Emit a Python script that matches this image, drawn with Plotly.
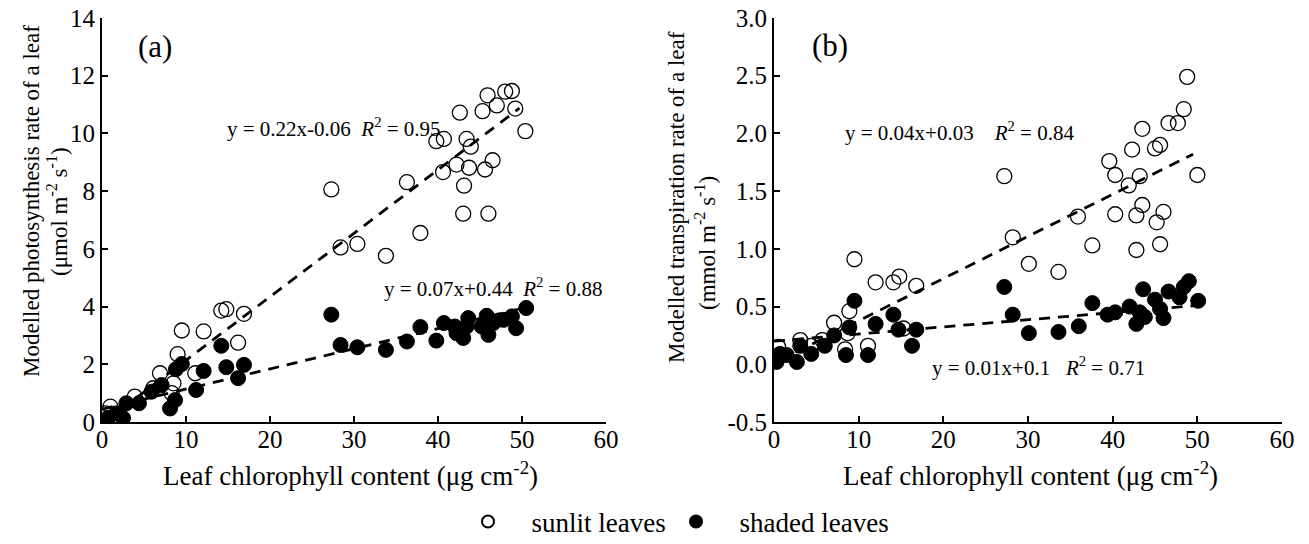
import plotly.graph_objects as go

W, H = 1309, 544
FONT = "Liberation Serif"

# ---------------- Panel (a): photosynthesis ----------------
a_sun_x = [0.4, 1.0, 3.9, 6.1, 6.9, 8.3, 8.5, 9.0, 9.5, 11.1, 12.1, 14.2, 14.8, 16.2, 16.9,
           27.3, 28.4, 30.4, 33.8, 36.3, 37.9, 39.8, 40.7, 40.6, 42.2, 42.6, 43.0, 43.1, 43.4,
           43.7, 43.9, 45.3, 45.6, 45.9, 46.0, 46.5, 47.0, 48.0, 48.8, 49.2, 50.4]
a_sun_y = [0.30, 0.53, 0.88, 1.17, 1.69, 1.00, 1.34, 2.35, 3.17, 1.69, 3.14, 3.86, 3.91, 2.75, 3.75,
           8.06, 6.05, 6.17, 5.76, 8.31, 6.55, 9.73, 9.81, 8.66, 8.92, 10.72, 7.22, 8.19, 9.81,
           8.81, 9.54, 10.77, 8.75, 11.32, 7.22, 9.07, 10.97, 11.45, 11.47, 10.86, 10.08]

a_shade_x = [0.2, 0.7, 1.7, 2.5, 2.9, 4.4, 5.9, 7.1, 8.1, 8.7, 8.8, 9.5, 11.2, 12.1, 14.2, 14.8,
             16.2, 16.9, 27.3, 28.4, 30.4, 33.8, 36.3, 37.9, 39.8, 40.7, 42.0, 42.2, 43.0, 43.4,
             43.6, 45.2, 45.8, 46.0, 46.6, 47.8, 48.8, 49.3, 50.5]
a_shade_y = [0.05, 0.14, 0.30, 0.14, 0.65, 0.65, 1.05, 1.28, 0.47, 0.76, 1.83, 2.01, 1.11, 1.77, 2.64, 1.90,
             1.52, 1.98, 3.72, 2.67, 2.59, 2.50, 2.79, 3.29, 2.82, 3.43, 3.31, 3.08, 2.91, 3.31,
             3.60, 3.31, 3.68, 3.02, 3.43, 3.54, 3.66, 3.25, 3.95]

# fitted lines (coefficients printed on the chart)
a_sun_fit = (0.22, -0.06)
a_sun_fit_x = [0.5, 49.7]
a_shade_fit = (0.07, 0.44)
a_shade_fit_x = [0.0, 50.5]

# ---------------- Panel (b): transpiration ----------------
b_sun_x = [0.5, 3.1, 4.4, 5.7, 7.1, 8.4, 8.7, 8.9, 9.5, 11.1, 12.0, 14.1, 14.8, 15.3, 16.8,
           27.2, 28.2, 30.1, 33.6, 35.9, 37.6, 39.6, 40.3, 40.3, 41.9, 42.3, 42.8, 42.8, 43.2,
           43.5, 43.5, 45.0, 45.2, 45.6, 45.6, 46.0, 46.6, 47.7, 48.4, 48.8, 50.0]
b_sun_y = [0.15, 0.21, 0.16, 0.21, 0.36, 0.13, 0.27, 0.46, 0.91, 0.16, 0.71, 0.71, 0.76, 0.31, 0.68,
           1.63, 1.10, 0.87, 0.80, 1.28, 1.03, 1.76, 1.64, 1.30, 1.55, 1.86, 1.29, 0.99, 1.63,
           1.38, 2.04, 1.87, 1.23, 1.90, 1.04, 1.32, 2.09, 2.09, 2.21, 2.49, 1.64]

b_shade_x = [0.3, 0.7, 1.5, 2.7, 3.1, 4.4, 6.0, 7.1, 8.5, 8.9, 9.5, 11.1, 12.0, 14.1, 14.7, 16.3, 16.8,
             27.2, 28.2, 30.1, 33.6, 36.0, 37.6, 39.4, 40.3, 42.0, 42.8, 43.2, 43.6, 43.8, 45.0,
             45.6, 46.0, 46.6, 47.9, 48.4, 49.0, 50.1]
b_shade_y = [0.02, 0.09, 0.08, 0.02, 0.16, 0.09, 0.16, 0.25, 0.08, 0.32, 0.55, 0.08, 0.35, 0.43, 0.30, 0.16, 0.30,
             0.67, 0.43, 0.27, 0.28, 0.33, 0.53, 0.43, 0.45, 0.50, 0.35, 0.45, 0.65, 0.41, 0.56,
             0.48, 0.40, 0.63, 0.58, 0.67, 0.72, 0.55]

b_sun_fit_x = [0.5, 49.5]
b_sun_fit_y = [0.03, 1.82]
b_shade_fit_x = [0.0, 50.0]
b_shade_fit_y = [0.20, 0.51]

# tick labels
a_xticks = [0, 10, 20, 30, 40, 50, 60]
a_yticks = [0, 2, 4, 6, 8, 10, 12, 14]
b_xticks = [0, 10, 20, 30, 40, 50, 60]
b_yticks = [-0.5, 0.0, 0.5, 1.0, 1.5, 2.0, 2.5, 3.0]
b_yticklabels = ["-0.5", "0.0", "0.5", "1.0", "1.5", "2.0", "2.5", "3.0"]

fig = go.Figure()

line_style = dict(color="black", width=2.8, dash="11px,8px")
mk_open = dict(symbol="circle-open", size=15, color="black", line=dict(color="black", width=1.3))
mk_fill = dict(symbol="circle", size=15, color="black", line=dict(color="black", width=1))

NB = "\u00a0\u00a0"

# panel (a)
fig.add_trace(go.Scatter(x=a_sun_fit_x, y=[a_sun_fit[0] * v + a_sun_fit[1] for v in a_sun_fit_x],
                         mode="lines", line=line_style, showlegend=False, xaxis="x", yaxis="y", hoverinfo="skip"))
fig.add_trace(go.Scatter(x=a_shade_fit_x, y=[a_shade_fit[0] * v + a_shade_fit[1] for v in a_shade_fit_x],
                         mode="lines", line=line_style, showlegend=False, xaxis="x", yaxis="y", hoverinfo="skip"))
fig.add_trace(go.Scatter(x=a_sun_x, y=a_sun_y, mode="markers", marker=mk_open, name=NB + "sunlit leaves",
                         xaxis="x", yaxis="y", showlegend=True, legend="legend"))
fig.add_trace(go.Scatter(x=a_shade_x, y=a_shade_y, mode="markers", marker=mk_fill, name=NB + "shaded leaves",
                         xaxis="x", yaxis="y", showlegend=True, legend="legend2"))

# panel (b)
fig.add_trace(go.Scatter(x=b_sun_fit_x, y=b_sun_fit_y, mode="lines", line=line_style, showlegend=False,
                         xaxis="x2", yaxis="y2", hoverinfo="skip"))
fig.add_trace(go.Scatter(x=b_shade_fit_x, y=b_shade_fit_y, mode="lines", line=line_style, showlegend=False,
                         xaxis="x2", yaxis="y2", hoverinfo="skip"))
fig.add_trace(go.Scatter(x=b_sun_x, y=b_sun_y, mode="markers", marker=mk_open, showlegend=False,
                         xaxis="x2", yaxis="y2"))
fig.add_trace(go.Scatter(x=b_shade_x, y=b_shade_y, mode="markers", marker=mk_fill, showlegend=False,
                         xaxis="x2", yaxis="y2"))


def px_x(p):
    return p / W


def px_y(p):
    return 1 - p / H


axis_common = dict(showgrid=False, zeroline=False, showline=True, linecolor="black", linewidth=2,
                   ticks="inside", ticklen=6, tickwidth=2, tickcolor="black",
                   tickfont=dict(family=FONT, size=25, color="black"), mirror=False, automargin=False)

leg_common = dict(orientation="h", xanchor="left", yanchor="middle",
                  font=dict(family=FONT, size=27, color="black"), bgcolor="rgba(0,0,0,0)",
                  itemwidth=50, itemsizing="constant")

fig.update_layout(
    width=W, height=H,
    margin=dict(l=0, r=0, t=0, b=0, autoexpand=False),
    paper_bgcolor="white", plot_bgcolor="white",
    font=dict(family=FONT, color="black", size=20),
    xaxis=dict(domain=[px_x(102), px_x(606)], range=[0, 60], tickvals=a_xticks, anchor="y",
               ticklabelstandoff=-6, **axis_common),
    yaxis=dict(domain=[px_y(422), px_y(18)], range=[0, 14], tickvals=a_yticks, anchor="x", **axis_common),
    xaxis2=dict(domain=[px_x(774), px_x(1282)], range=[0, 60], tickvals=b_xticks, anchor="y2",
                ticklabelstandoff=-6, **axis_common),
    yaxis2=dict(domain=[px_y(422), px_y(18)], range=[-0.5, 3.0], tickvals=b_yticks, ticktext=b_yticklabels,
                anchor="x2", **axis_common),
    legend=dict(x=px_x(458), y=px_y(522), **leg_common),
    legend2=dict(x=px_x(666), y=px_y(522), **leg_common),
)

ann = []
tf = dict(family=FONT, size=21, color="black")
# panel labels
ann.append(dict(text="(a)", x=6.3, y=13.0, xref="x", yref="y", showarrow=False,
                xanchor="center", yanchor="middle", font=dict(family=FONT, size=31, color="black")))
ann.append(dict(text="(b)", x=6.6, y=2.76, xref="x2", yref="y2", showarrow=False,
                xanchor="center", yanchor="middle", font=dict(family=FONT, size=31, color="black")))
# equations
ann.append(dict(text="y = 0.22x-0.06  <i>R</i><sup>2</sup> = 0.95", x=14.6, y=10.2, xref="x", yref="y",
                xanchor="left", yanchor="middle", showarrow=False, font=tf))
ann.append(dict(text="y = 0.07x+0.44  <i>R</i><sup>2</sup> = 0.88", x=33.3, y=4.65, xref="x", yref="y",
                xanchor="left", yanchor="middle", showarrow=False, font=tf))
ann.append(dict(text="y = 0.04x+0.03    <i>R</i><sup>2</sup> = 0.84", x=8.1, y=2.02, xref="x2", yref="y2",
                xanchor="left", yanchor="middle", showarrow=False, font=tf))
ann.append(dict(text="y = 0.01x+0.1   <i>R</i><sup>2</sup> = 0.71", x=18.4, y=-0.02, xref="x2", yref="y2",
                xanchor="left", yanchor="middle", showarrow=False, font=tf))
# x axis titles
xt = dict(family=FONT, size=27, color="black")
yt = dict(family=FONT, size=23, color="black")
ann.append(dict(text="Leaf chlorophyll content (μg cm<sup>-2</sup>)", x=px_x(350), y=px_y(474),
                xref="paper", yref="paper", xanchor="center", yanchor="middle", showarrow=False, font=xt))
ann.append(dict(text="Leaf chlorophyll content (μg cm<sup>-2</sup>)", x=px_x(1030), y=px_y(474),
                xref="paper", yref="paper", xanchor="center", yanchor="middle", showarrow=False, font=xt))
# y axis titles
ann.append(dict(text="Modelled photosynthesis rate of a leaf", x=px_x(31), y=px_y(201),
                xref="paper", yref="paper", xanchor="center", yanchor="middle",
                showarrow=False, textangle=-90, font=yt))
ann.append(dict(text="(μmol m<sup>-2</sup> s<sup>-1</sup>)", x=px_x(58), y=px_y(212),
                xref="paper", yref="paper", xanchor="center", yanchor="middle",
                showarrow=False, textangle=-90, font=yt))
ann.append(dict(text="Modelled transpiration rate of a leaf", x=px_x(677), y=px_y(197),
                xref="paper", yref="paper", xanchor="center", yanchor="middle",
                showarrow=False, textangle=-90, font=yt))
ann.append(dict(text="(mmol m<sup>-2</sup> s<sup>-1</sup>)", x=px_x(705), y=px_y(243),
                xref="paper", yref="paper", xanchor="center", yanchor="middle",
                showarrow=False, textangle=-90, font=yt))
fig.update_layout(annotations=ann)

fig.write_html("out.html")
